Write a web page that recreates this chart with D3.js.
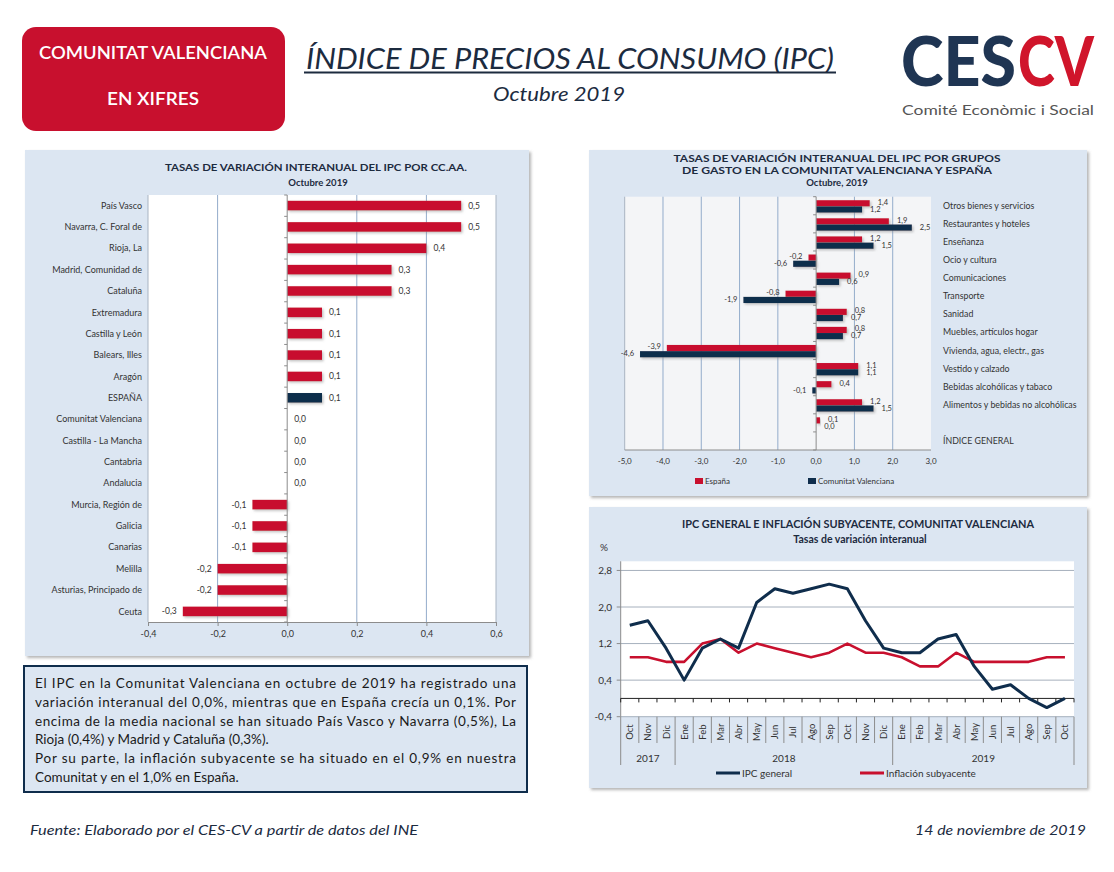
<!DOCTYPE html>
<html><head><meta charset="utf-8">
<script src="https://cdn.jsdelivr.net/npm/d3@7/dist/d3.min.js"></script>
<style>html,body{margin:0;padding:0;background:#fff}svg{display:block;font-family:Lato,"Open Sans",sans-serif}</style>
</head><body>
<script>
// ---------- DATA ----------
const regions = ["País Vasco","Navarra, C. Foral de","Rioja, La","Madrid, Comunidad de","Cataluña","Extremadura","Castilla y León","Balears, Illes","Aragón","ESPAÑA","Comunitat Valenciana","Castilla - La Mancha","Cantabria","Andalucia","Murcia, Región de","Galicia","Canarias","Melilla","Asturias, Principado de","Ceuta"];
const regionValues = [0.5,0.5,0.4,0.3,0.3,0.1,0.1,0.1,0.1,0.1,0.0,0.0,0.0,0.0,-0.1,-0.1,-0.1,-0.2,-0.2,-0.3];
const regionTicks = [-0.4,-0.2,0.0,0.2,0.4,0.6];

const groups = ["Otros bienes y servicios","Restaurantes y hoteles","Enseñanza","Ocio y cultura","Comunicaciones","Transporte","Sanidad","Muebles, artículos hogar","Vivienda, agua, electr., gas","Vestido y calzado","Bebidas alcohólicas y tabaco","Alimentos y bebidas no alcohólicas","","ÍNDICE GENERAL"];
const groupEspana = [1.4,1.9,1.2,-0.2,0.9,-0.8,0.8,0.8,-3.9,1.1,0.4,1.2,null,0.1];
const groupCV     = [1.2,2.5,1.5,-0.6,0.6,-1.9,0.7,0.7,-4.6,1.1,-0.1,1.5,null,0.0];
const groupTicks = [-5,-4,-3,-2,-1,0,1,2,3];

const months = ["Oct","Nov","Dic","Ene","Feb","Mar","Abr","May","Jun","Jul","Ago","Sep","Oct","Nov","Dic","Ene","Feb","Mar","Abr","May","Jun","Jul","Ago","Sep","Oct"];
const years = [{label:"2017",from:0,to:2},{label:"2018",from:3,to:14},{label:"2019",from:15,to:24}];
const ipcGeneral = [1.6,1.7,1.1,0.4,1.1,1.3,1.1,2.1,2.4,2.3,2.4,2.5,2.4,1.7,1.1,1.0,1.0,1.3,1.4,0.7,0.2,0.3,0.0,-0.2,0.0];
const inflSubyacente = [0.9,0.9,0.8,0.8,1.2,1.3,1.0,1.2,1.1,1.0,0.9,1.0,1.2,1.0,1.0,0.9,0.7,0.7,1.0,0.8,0.8,0.8,0.8,0.9,0.9];
const lineTicks = [-0.4,0.4,1.2,2.0,2.8];

const textLines = [
 {t:"El IPC en la Comunitat Valenciana en octubre de 2019 ha registrado una", j:true},
 {t:"variación interanual del 0,0%, mientras que en España crecía un 0,1%. Por", j:true},
 {t:"encima de la media nacional se han situado País Vasco y Navarra (0,5%), La", j:true},
 {t:"Rioja (0,4%) y Madrid y Cataluña (0,3%).", j:false},
 {t:"Por su parte, la inflación subyacente se ha situado en el 0,9% en nuestra", j:true},
 {t:"Comunitat y en el 1,0% en España.", j:false}
];

// ---------- STYLE ----------
const RED = "#c8102e", NAVY = "#0f2d4c", PANEL = "#dce6f2", GRID = "#93accb", TXT = "#333", TITLE = "#1c2b3f";
const loc = d3.formatLocale({decimal:",",thousands:".",grouping:[3],currency:["","€"],minus:"-"});
const f1 = loc.format(".1f");

const svg = d3.select("body").append("svg").attr("width",1114).attr("height",872);
svg.append("rect").attr("width",1114).attr("height",872).attr("fill","#fff");
const defs = svg.append("defs");
const sh = defs.append("filter").attr("id","sh").attr("x","-5%").attr("y","-5%").attr("width","110%").attr("height","110%");
sh.append("feDropShadow").attr("dx",2).attr("dy",2).attr("stdDeviation",1.5).attr("flood-color","#777").attr("flood-opacity",0.55);
const bs = defs.append("filter").attr("id","bs").attr("x","-10%").attr("y","-30%").attr("width","130%").attr("height","180%");
bs.append("feDropShadow").attr("dx",1.5).attr("dy",1.5).attr("stdDeviation",1).attr("flood-color","#888").attr("flood-opacity",0.5);

// ---------- HEADER ----------
svg.append("rect").attr("x",22).attr("y",27).attr("width",263).attr("height",104).attr("rx",14).attr("fill",RED);
svg.append("text").attr("x",153).attr("y",59).attr("text-anchor","middle").attr("fill","#fff").attr("font-size",17).attr("font-weight",600)
  .attr("textLength",228).attr("lengthAdjust","spacingAndGlyphs").text("COMUNITAT VALENCIANA");
svg.append("text").attr("x",153).attr("y",105).attr("text-anchor","middle").attr("fill","#fff").attr("font-size",17).attr("font-weight",600)
  .attr("textLength",92).attr("lengthAdjust","spacingAndGlyphs").text("EN XIFRES");
svg.append("text").attr("x",570).attr("y",69).attr("text-anchor","middle").attr("fill",TITLE).attr("font-size",29).attr("font-style","italic")
  .attr("textLength",528).attr("lengthAdjust","spacingAndGlyphs").text("ÍNDICE DE PRECIOS AL CONSUMO (IPC)");
svg.append("line").attr("x1",304).attr("x2",836).attr("y1",72.5).attr("y2",72.5).attr("stroke",TITLE).attr("stroke-width",2);
svg.append("text").attr("x",559).attr("y",101).attr("text-anchor","middle").attr("fill",TITLE).attr("font-size",20).attr("font-style","italic")
  .attr("textLength",132).attr("lengthAdjust","spacingAndGlyphs").text("Octubre 2019");
svg.append("text").attr("x",901).attr("y",86).attr("font-size",68).attr("font-weight",900).attr("fill","#1f3553")
  .attr("textLength",115).attr("lengthAdjust","spacingAndGlyphs").text("CES");
svg.append("text").attr("x",1018).attr("y",86).attr("font-size",68).attr("font-weight",900).attr("fill","#d0152b")
  .attr("textLength",76).attr("lengthAdjust","spacingAndGlyphs").text("CV");
svg.append("text").attr("x",902).attr("y",115).attr("fill","#555").attr("font-size",14)
  .attr("textLength",192).attr("lengthAdjust","spacingAndGlyphs").text("Comité Econòmic i Social");

// ---------- PANELS ----------
[[25,150,504,506],[589,150,498,346],[589,507,498,281]].forEach(p=>{
  svg.append("rect").attr("x",p[0]).attr("y",p[1]).attr("width",p[2]).attr("height",p[3]).attr("fill",PANEL).attr("filter","url(#sh)");
});

// ---------- CHART 1: CC.AA. ----------
{
  const g = svg.append("g");
  const x = d3.scaleLinear().domain([-0.4,0.6]).range([148,496]);
  const y = d3.scaleBand().domain(d3.range(regions.length)).range([195,622]).paddingInner(0.55).paddingOuter(0.27);
  const top = 195, bot = 622;
  g.append("rect").attr("x",x(-0.4)).attr("y",top).attr("width",x(0.6)-x(-0.4)).attr("height",bot-top).attr("fill","#fff");
  regionTicks.filter(t=>t!==0 && t!==-0.4 && t!==0.6).forEach(t=>{
    g.append("line").attr("x1",x(t)).attr("x2",x(t)).attr("y1",top).attr("y2",bot).attr("stroke",GRID).attr("stroke-width",1);
  });
  g.append("line").attr("x1",x(-0.4)).attr("x2",x(-0.4)).attr("y1",top).attr("y2",bot).attr("stroke","#a9b4c2");
  g.append("line").attr("x1",x(0.6)).attr("x2",x(0.6)).attr("y1",top).attr("y2",bot).attr("stroke","#a9b4c2");
  g.selectAll("rect.bar").data(regionValues).join("rect").attr("class","bar")
    .attr("x",d=>x(Math.min(0,d))).attr("width",d=>Math.abs(x(d)-x(0)))
    .attr("y",(d,i)=>y(i)).attr("height",y.bandwidth())
    .attr("fill",(d,i)=>regions[i]==="ESPAÑA"?NAVY:RED).attr("filter",d=>d!==0?"url(#bs)":null);
  g.append("line").attr("x1",x(0)).attr("x2",x(0)).attr("y1",top).attr("y2",bot).attr("stroke","#8c8c8c");
  d3.range(regions.length+1).forEach(i=>{
    const yy = top + i*(bot-top)/regions.length;
    g.append("line").attr("x1",x(0)-3).attr("x2",x(0)).attr("y1",yy).attr("y2",yy).attr("stroke","#8c8c8c");
  });
  g.append("g").attr("transform",`translate(0,${bot})`)
    .call(d3.axisBottom(x).tickValues(regionTicks).tickFormat(f1).tickSize(4))
    .call(a=>{a.select(".domain").attr("stroke","#8c8c8c");a.selectAll("line").attr("stroke","#8c8c8c");
      a.selectAll("text").attr("fill",TXT).attr("font-size",9).attr("font-family","Lato").attr("dy","0.9em");});
  g.selectAll("text.cat").data(regions).join("text").attr("class","cat")
    .attr("x",142).attr("y",(d,i)=>y(i)+y.bandwidth()/2).attr("dy","0.35em").attr("text-anchor","end")
    .attr("font-size",9).attr("fill",TXT).text(d=>d);
  g.selectAll("text.val").data(regionValues).join("text").attr("class","val")
    .attr("x",d=>d<0?x(d)-6:x(d)+7).attr("text-anchor",d=>d<0?"end":"start")
    .attr("y",(d,i)=>y(i)+y.bandwidth()/2).attr("dy","0.35em").attr("font-size",8.5).attr("fill",TXT).text(f1);
  g.append("text").attr("x",316).attr("y",171).attr("text-anchor","middle").attr("font-size",9.5).attr("font-weight",700).attr("fill",TITLE)
    .attr("textLength",302).attr("lengthAdjust","spacingAndGlyphs").text("TASAS DE VARIACIÓN INTERANUAL DEL IPC POR CC.AA.");
  g.append("text").attr("x",318).attr("y",186).attr("text-anchor","middle").attr("font-size",9.5).attr("font-weight",700).attr("fill",TITLE).text("Octubre 2019");
}

// ---------- CHART 2: GRUPOS ----------
{
  const g = svg.append("g");
  const x = d3.scaleLinear().domain([-5,3]).range([624.7,931]);
  const top = 196.7, bot = 450;
  const y = d3.scaleBand().domain(d3.range(groups.length)).range([top,bot]);
  g.append("rect").attr("x",x(-5)).attr("y",top).attr("width",x(3)-x(-5)).attr("height",bot-top).attr("fill","#f4f5f7");
  groupTicks.filter(t=>t!==0 && t!==3).forEach(t=>{
    g.append("line").attr("x1",x(t)).attr("x2",x(t)).attr("y1",top).attr("y2",bot).attr("stroke",t===-5?"#a9b4c2":GRID);
  });
  const bh = 6.2;
  g.selectAll("rect.e").data(groupEspana).join("rect").attr("class","e")
    .filter(d=>d!==null)
    .attr("x",d=>x(Math.min(0,d))).attr("width",d=>Math.abs(x(d)-x(0)))
    .attr("y",(d,i)=>y(i)+3.5).attr("height",bh).attr("fill",RED).attr("filter","url(#bs)");
  g.selectAll("rect.c").data(groupCV).join("rect").attr("class","c")
    .filter(d=>d!==null)
    .attr("x",d=>x(Math.min(0,d))).attr("width",d=>Math.abs(x(d)-x(0)))
    .attr("y",(d,i)=>y(i)+3.5+bh).attr("height",bh).attr("fill",NAVY).attr("filter","url(#bs)");
  g.append("line").attr("x1",x(0)).attr("x2",x(0)).attr("y1",top).attr("y2",bot).attr("stroke","#8c8c8c");
  d3.range(groups.length+1).forEach(i=>{
    const yy = top + i*(bot-top)/groups.length;
    g.append("line").attr("x1",x(0)-3).attr("x2",x(0)).attr("y1",yy).attr("y2",yy).attr("stroke","#8c8c8c");
  });
  g.append("line").attr("x1",x(-5)).attr("x2",x(3)).attr("y1",bot).attr("y2",bot).attr("stroke","#8c8c8c");
  g.selectAll("text.xt").data(groupTicks).join("text").attr("class","xt")
    .attr("x",d=>x(d)).attr("y",bot+14).attr("text-anchor","middle").attr("font-size",8).attr("fill",TXT).text(f1);
  const lab = (arr,off,cls)=>g.selectAll("text."+cls).data(arr).join("text").attr("class",cls)
    .filter(d=>d!==null)
    .attr("x",d=>d<0?x(d)-6:x(d)+8).attr("text-anchor",d=>d<0?"end":"start")
    .attr("y",(d,i)=>y(i)+off).attr("font-size",7.5).attr("fill",TXT).text(f1);
  lab(groupEspana,8,"le"); lab(groupCV,15,"lc");
  g.selectAll("text.gc").data(groups).join("text").attr("class","gc")
    .attr("x",943).attr("y",(d,i)=>y(i)+y.bandwidth()/2).attr("dy","0.35em").attr("font-size",8.8).attr("fill",TXT).text(d=>d);
  const tl = ["TASAS DE VARIACIÓN INTERANUAL DEL IPC POR GRUPOS","DE GASTO EN LA COMUNITAT VALENCIANA Y ESPAÑA","Octubre, 2019"];
  const tw = [327,310,null];
  tl.forEach((t,i)=>{
    const tt = g.append("text").attr("x",837).attr("y",162+i*12).attr("text-anchor","middle").attr("font-size",9.5).attr("font-weight",700).attr("fill",TITLE).text(t);
    if(tw[i]) tt.attr("textLength",tw[i]).attr("lengthAdjust","spacingAndGlyphs");
  });
  g.append("rect").attr("x",695).attr("y",478).attr("width",8).attr("height",6).attr("fill",RED);
  g.append("text").attr("x",705).attr("y",484).attr("font-size",8).attr("fill",TXT).text("España");
  g.append("rect").attr("x",808).attr("y",478).attr("width",8).attr("height",6).attr("fill",NAVY);
  g.append("text").attr("x",818).attr("y",484).attr("font-size",8).attr("fill",TXT).text("Comunitat Valenciana");
}

// ---------- CHART 3: LÍNEAS ----------
{
  const g = svg.append("g");
  const x = d3.scaleBand().domain(d3.range(months.length)).range([620.7,1074]);
  const y = d3.scaleLinear().domain([-0.4,3.0]).range([716.7,561.3]);
  const L = 620.7, R = 1074;
  g.append("rect").attr("x",L).attr("y",y(3.0)).attr("width",R-L).attr("height",y(-0.4)-y(3.0)).attr("fill","#fff");
  lineTicks.forEach(t=>{
    g.append("line").attr("x1",L).attr("x2",R).attr("y1",y(t)).attr("y2",y(t)).attr("stroke","#a6b0bd");
    g.append("line").attr("x1",L-4).attr("x2",L).attr("y1",y(t)).attr("y2",y(t)).attr("stroke","#8c8c8c");
    g.append("text").attr("x",612).attr("y",y(t)).attr("dy","0.35em").attr("text-anchor","end").attr("font-size",10).attr("fill",TXT).text(f1(t));
  });
  g.append("line").attr("x1",L).attr("x2",L).attr("y1",y(3.0)).attr("y2",y(-0.4)).attr("stroke","#8c8c8c");
  g.append("line").attr("x1",L).attr("x2",R).attr("y1",y(0)).attr("y2",y(0)).attr("stroke","#222").attr("stroke-width",1);
  d3.range(months.length+1).forEach(i=>{
    const xx = L + i*x.step();
    g.append("line").attr("x1",xx).attr("x2",xx).attr("y1",y(0)).attr("y2",y(0)+4).attr("stroke","#222");
    const isYear = years.some(yr=>yr.from===i) || i===months.length;
    g.append("line").attr("x1",xx).attr("x2",xx).attr("y1",y(-0.4)).attr("y2",isYear?765:743).attr("stroke","#8c8c8c");
  });
  const cx = i=>x(i)+x.bandwidth()/2;
  g.selectAll("text.m").data(months).join("text").attr("class","m")
    .attr("transform",(d,i)=>`translate(${cx(i)+3.5},732) rotate(-90)`).attr("text-anchor","middle")
    .attr("font-size",9.5).attr("fill",TXT).text(d=>d);
  years.forEach(yr=>{
    g.append("text").attr("x",(cx(yr.from)+cx(yr.to))/2).attr("y",762).attr("text-anchor","middle").attr("font-size",10).attr("fill",TXT).text(yr.label);
  });
  const line = d3.line().x((d,i)=>cx(i)).y(d=>y(d));
  g.append("path").attr("d",line(inflSubyacente)).attr("fill","none").attr("stroke",RED).attr("stroke-width",2.6).attr("stroke-linejoin","round");
  g.append("path").attr("d",line(ipcGeneral)).attr("fill","none").attr("stroke",NAVY).attr("stroke-width",3).attr("stroke-linejoin","round");
  g.append("text").attr("x",858).attr("y",528).attr("text-anchor","middle").attr("font-size",10.5).attr("font-weight",700).attr("fill",TITLE)
    .attr("textLength",352).attr("lengthAdjust","spacingAndGlyphs").text("IPC GENERAL E INFLACIÓN  SUBYACENTE,  COMUNITAT  VALENCIANA");
  g.append("text").attr("x",860).attr("y",543).attr("text-anchor","middle").attr("font-size",10.5).attr("font-weight",700).attr("fill",TITLE).text("Tasas de variación interanual");
  g.append("text").attr("x",604).attr("y",551).attr("text-anchor","middle").attr("font-size",10).attr("fill",TXT).text("%");
  g.append("line").attr("x1",716).attr("x2",740).attr("y1",773).attr("y2",773).attr("stroke",NAVY).attr("stroke-width",3);
  g.append("text").attr("x",742).attr("y",777).attr("font-size",10).attr("fill",TXT).text("IPC general");
  g.append("line").attr("x1",860).attr("x2",884).attr("y1",773).attr("y2",773).attr("stroke",RED).attr("stroke-width",3);
  g.append("text").attr("x",886).attr("y",777).attr("font-size",10).attr("fill",TXT).text("Inflación subyacente");
}

// ---------- TEXT BOX ----------
svg.append("rect").attr("x",24).attr("y",666).attr("width",503).attr("height",126).attr("fill",PANEL).attr("stroke","#0f2d4c").attr("stroke-width",2);
textLines.forEach((l,i)=>{
  const t = svg.append("text").attr("x",35).attr("y",688+i*18.8).attr("font-size",13.5).attr("fill","#1a1a1a").text(l.t);
  if(l.j) t.attr("textLength",481).attr("lengthAdjust","spacing");
});

// ---------- FOOTER ----------
svg.append("text").attr("x",30).attr("y",835).attr("font-size",14).attr("font-style","italic").attr("fill",TITLE)
  .attr("textLength",388).attr("lengthAdjust","spacingAndGlyphs").text("Fuente: Elaborado por el CES-CV a partir de datos del INE");
svg.append("text").attr("x",1086).attr("y",835).attr("text-anchor","end").attr("font-size",14).attr("font-style","italic").attr("fill",TITLE)
  .attr("textLength",171).attr("lengthAdjust","spacingAndGlyphs").text("14 de noviembre de 2019");
</script>
</body></html>
